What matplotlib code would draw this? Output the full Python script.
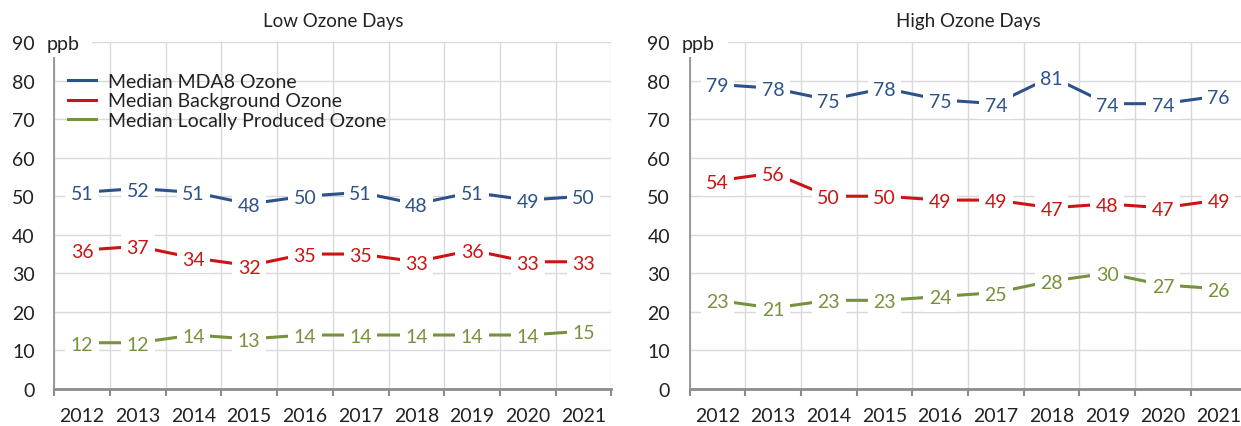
"""Median MDA8, background and locally produced ozone on low and high ozone days."""

import numpy as np
import matplotlib
matplotlib.use("Agg")
import matplotlib.pyplot as plt
from matplotlib.patches import Rectangle

YEARS = ["2012", "2013", "2014", "2015", "2016", "2017", "2018", "2019", "2020", "2021"]

LOW_MDA8 = [51, 52, 51, 48, 50, 51, 48, 51, 49, 50]
LOW_BACKGROUND = [36, 37, 34, 32, 35, 35, 33, 36, 33, 33]
LOW_LOCAL = [12, 12, 14, 13, 14, 14, 14, 14, 14, 15]

HIGH_MDA8 = [79, 78, 75, 78, 75, 74, 81, 74, 74, 76]
HIGH_BACKGROUND = [54, 56, 50, 50, 49, 49, 47, 48, 47, 49]
HIGH_LOCAL = [23, 21, 23, 23, 24, 25, 28, 30, 27, 26]

SERIES_NAMES = ["Median MDA8 Ozone", "Median Background Ozone",
                "Median Locally Produced Ozone"]
COLORS = ["#2C528C", "#CC1414", "#76923C"]

Y_TICKS = [0, 10, 20, 30, 40, 50, 60, 70, 80, 90]

TEXT = "#222222"
GRID = "#D9D9D9"
AXIS = "#8C8C8C"
FS = 14

plt.rcParams.update({
    "font.family": ["Lato", "DejaVu Sans"],
    "font.size": FS,
})


def draw_panel(ax, title, series, legend=False):
    x = np.arange(len(YEARS))
    for vals, color, name in zip(series, COLORS, SERIES_NAMES):
        ax.plot(x, vals, color=color, linewidth=2.2, zorder=2, label=name)
        for xi, v in zip(x, vals):
            ax.text(xi, v, f"{v}", ha="center", va="center_baseline", color=color,
                    fontsize=FS, zorder=4,
                    bbox=dict(boxstyle="square,pad=0.28", facecolor="white",
                              edgecolor="none"))

    ax.set_xlim(-0.5, len(YEARS) - 0.5)
    ax.set_ylim(0, 90)
    ax.set_yticks(Y_TICKS)
    ax.set_xticks(x)
    ax.set_xticklabels(YEARS)
    ax.set_xticks(np.arange(-0.5, len(YEARS)), minor=True)

    ax.tick_params(axis="y", length=0, pad=14, colors=TEXT, labelsize=FS)
    ax.tick_params(axis="x", which="major", length=0, pad=13, colors=TEXT,
                   labelsize=FS)
    ax.tick_params(axis="x", which="minor", length=5, width=1.5, color=AXIS)

    ax.grid(axis="y", color=GRID, linewidth=1, zorder=0)
    ax.grid(axis="x", which="minor", color=GRID, linewidth=1, zorder=0)
    ax.set_axisbelow(True)

    for side in ["top", "right"]:
        ax.spines[side].set_visible(False)
    ax.spines["bottom"].set_color(AXIS)
    ax.spines["bottom"].set_linewidth(2)
    ax.spines["left"].set_color(AXIS)
    ax.spines["left"].set_linewidth(1.2)

    # unit label sitting on top of the y axis, white box hides the axis end
    step = 1 / 55.7  # categories per pixel
    ax.add_patch(Rectangle((-0.5 - 12 * step, 86.1), 50 * step, 7.8,
                           facecolor="white", edgecolor="none", zorder=3,
                           clip_on=False))
    ax.text(-0.5 + 9 * step, 90, "ppb", ha="center", va="center_baseline",
            color=TEXT, fontsize=FS, zorder=5, clip_on=False)

    ax.text(0.5, 1 + 22 / 347, title, transform=ax.transAxes, ha="center",
            va="center", color=TEXT, fontsize=13.5)

    if legend:
        ax.legend(loc="upper left", bbox_to_anchor=(0.0, 0.95), frameon=False,
                  fontsize=FS, handlelength=1.45, handletextpad=0.6,
                  labelspacing=0.13, borderaxespad=0.3, labelcolor=TEXT)


def main():
    fig = plt.figure(figsize=(12.41, 4.27), dpi=100)
    ax1 = fig.add_axes([54.3 / 1241, 1 - 390 / 427, 557 / 1241, 347 / 427])
    ax2 = fig.add_axes([689.5 / 1241, 1 - 390 / 427, 557 / 1241, 347 / 427])

    draw_panel(ax1, "Low Ozone Days", [LOW_MDA8, LOW_BACKGROUND, LOW_LOCAL],
               legend=True)
    draw_panel(ax2, "High Ozone Days", [HIGH_MDA8, HIGH_BACKGROUND, HIGH_LOCAL])

    fig.savefig("out.png", dpi=100)
    plt.close(fig)


if __name__ == "__main__":
    main()
